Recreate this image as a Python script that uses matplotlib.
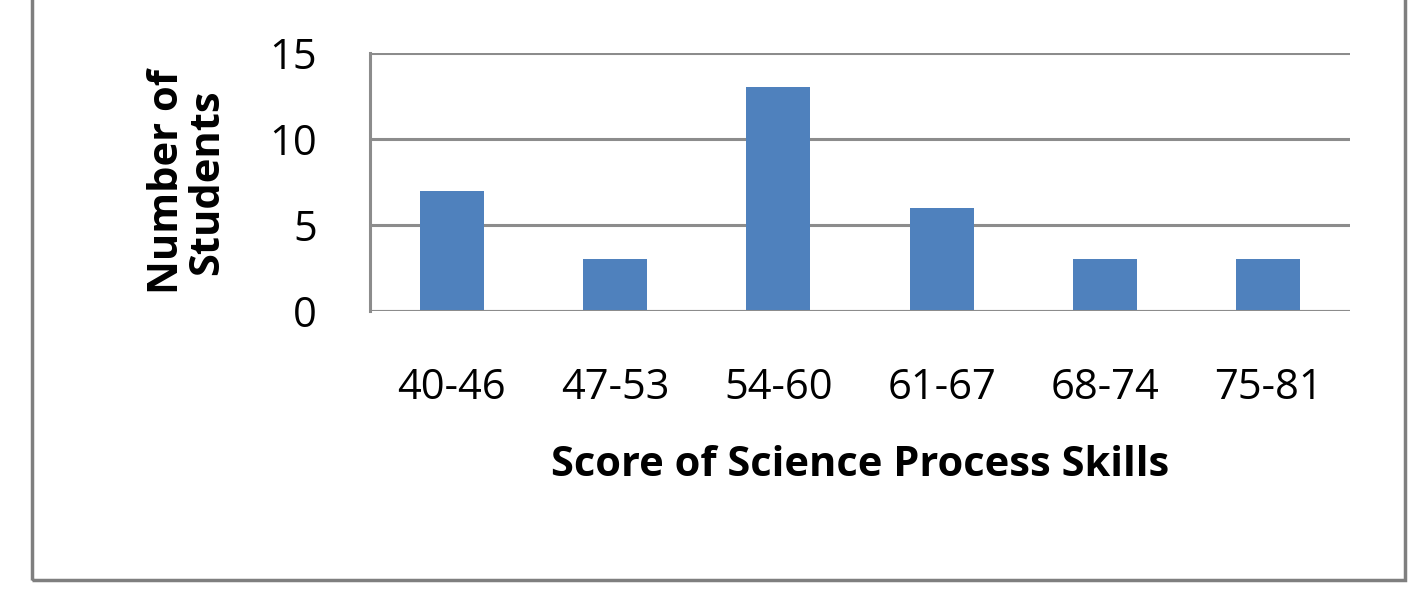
import matplotlib
matplotlib.use("Agg")
import matplotlib.pyplot as plt
from matplotlib.patches import Rectangle

categories = ["40-46", "47-53", "54-60", "61-67", "68-74", "75-81"]
counts = [7, 3, 13, 6, 3, 3]

plt.rcParams['font.family'] = ['Open Sans', 'DejaVu Sans']
fig = plt.figure(figsize=(14.17, 5.91), dpi=100)
W, H = 1417, 591
ax = fig.add_axes([370/W, 1-311/H, 980/W, 258/H])
x = range(len(categories))
ax.bar(x, counts, width=0.39, color="#4F81BD", zorder=3)
ax.set_xlim(-0.5, len(categories)-0.5)
ax.set_ylim(0, 15)
ax.set_yticks([0, 5, 10, 15])
ax.yaxis.grid(True, color="#8C8C8C", linewidth=2.2, zorder=0)
for s in ["top", "right", "bottom"]:
    ax.spines[s].set_visible(False)
ax.spines["left"].set_color("#8C8C8C")
ax.spines["left"].set_linewidth(2.2)
ax.axhline(0, color="#8C8C8C", linewidth=2.2, zorder=4)
ax.set_xticks(list(x))
ax.set_xticklabels(categories, fontsize=30)
ax.tick_params(axis="y", labelsize=30, length=0, pad=38)
ax.tick_params(axis="x", length=0, pad=40)
ax.set_xlabel("Score of Science Process Skills", fontsize=30, fontweight="bold", labelpad=26)
ax.set_ylabel("Number of\nStudents", fontsize=30, fontweight="bold", labelpad=30, linespacing=0.95)
fig.patches.append(Rectangle((32/W, 1-580/H), (1405-32)/W, 600/H, transform=fig.transFigure,
                             fill=False, edgecolor="#7F7F7F", linewidth=2.5))
fig.savefig("out.png", dpi=100)
